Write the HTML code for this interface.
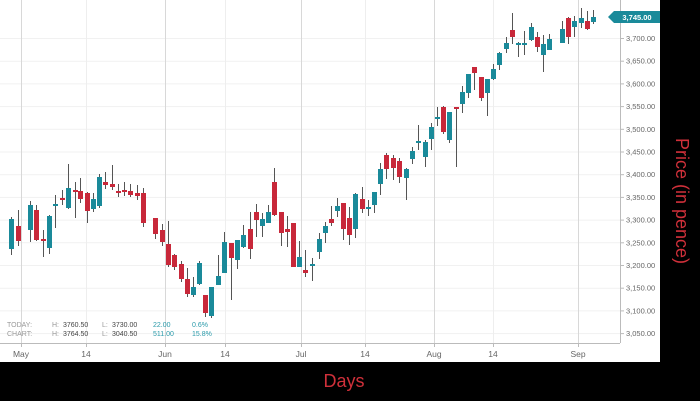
<!DOCTYPE html>
<html><head><meta charset="utf-8"><style>
html,body{margin:0;padding:0;background:#000;}
svg{display:block;font-family:"Liberation Sans",sans-serif;}
</style></head><body>
<svg width="700" height="401" viewBox="0 0 700 401" xmlns="http://www.w3.org/2000/svg">
<rect x="0" y="0" width="700" height="401" fill="#000"/>
<rect x="0" y="0" width="660" height="362" fill="#fff"/>
<g id="grid" stroke="#f1f1f1" stroke-width="1"></g>
<g stroke="#d8d8d8" stroke-width="1">
<line x1="21.5" y1="0" x2="21.5" y2="343"/><line x1="165.5" y1="0" x2="165.5" y2="343"/>
<line x1="301.5" y1="0" x2="301.5" y2="343"/><line x1="434.5" y1="0" x2="434.5" y2="343"/>
<line x1="578.5" y1="0" x2="578.5" y2="343"/>
</g>
<g stroke="#eeeeee" stroke-width="1">
<line x1="86.5" y1="0" x2="86.5" y2="343"/><line x1="225.5" y1="0" x2="225.5" y2="343"/>
<line x1="365.5" y1="0" x2="365.5" y2="343"/><line x1="493.5" y1="0" x2="493.5" y2="343"/>
</g>
<line x1="0" y1="343.5" x2="620" y2="343.5" stroke="#bbb"/>
<line x1="620.5" y1="0" x2="620.5" y2="343" stroke="#bbb"/>
<g stroke="#bbb">
<line x1="21.5" y1="343" x2="21.5" y2="347"/><line x1="86.5" y1="343" x2="86.5" y2="347"/>
<line x1="165.5" y1="343" x2="165.5" y2="347"/><line x1="225.5" y1="343" x2="225.5" y2="347"/>
<line x1="301.5" y1="343" x2="301.5" y2="347"/><line x1="365.5" y1="343" x2="365.5" y2="347"/>
<line x1="434.5" y1="343" x2="434.5" y2="347"/><line x1="493.5" y1="343" x2="493.5" y2="347"/>
<line x1="578.5" y1="343" x2="578.5" y2="347"/>
</g>
<g font-size="8.5" fill="#666" text-anchor="middle">
<text x="21" y="357">May</text><text x="86" y="357">14</text><text x="165" y="357">Jun</text>
<text x="225" y="357">14</text><text x="301" y="357">Jul</text><text x="365" y="357">14</text>
<text x="434" y="357">Aug</text><text x="493" y="357">14</text><text x="578" y="357">Sep</text>
</g>
<g id="ylab" font-size="7.5" fill="#666"></g>
<g id="candles"></g>
<polygon points="608,17 614,11 660,11 660,23 614,23" fill="#1a8a9a"/>
<text x="637" y="20" font-size="7.5" font-weight="bold" fill="#fff" text-anchor="middle">3,745.00</text>
<g font-size="7" fill="#999">
<text x="7" y="327">TODAY:</text><text x="7" y="336">CHART:</text>
<text x="52" y="327">H:</text><text x="52" y="336">H:</text>
<text x="102" y="327">L:</text><text x="102" y="336">L:</text>
</g>
<g font-size="7" fill="#444">
<text x="63" y="327">3760.50</text><text x="63" y="336">3764.50</text>
<text x="112" y="327">3730.00</text><text x="112" y="336">3040.50</text>
</g>
<g font-size="7" fill="#2a9aaa">
<text x="153" y="327">22.00</text><text x="153" y="336">511.00</text>
<text x="192" y="327">0.6%</text><text x="192" y="336">15.8%</text>
</g>
<text x="344" y="387" font-size="18" fill="#d0303a" text-anchor="middle">Days</text>
<text transform="translate(676,201) rotate(90)" font-size="18" fill="#d0303a" text-anchor="middle">Price (in pence)</text>
<script>
(function(){
var ns="http://www.w3.org/2000/svg";
function el(t,a,p){var e=document.createElementNS(ns,t);for(var k in a)e.setAttribute(k,a[k]);p.appendChild(e);return e;}
var g=document.getElementById("grid"),yl=document.getElementById("ylab");
for(var p=3700;p>=3050;p-=50){var y=38+(3700-p)*0.454;
el("line",{x1:0,y1:y+0.5,x2:620,y2:y+0.5},g);
el("line",{x1:620,y1:y+0.5,x2:624,y2:y+0.5,stroke:"#bbb"},g);
var t=el("text",{x:626,y:y+3},yl);t.textContent=(p/1000|0)+","+String(p%1000).padStart(3,"0")+".00";}
var c=[[11,217,255,219,249,0],[18,210,246,226,241,1],[30,201,242,205,230,0],[36,205,241,210,240,1],[43,230,257,239,241,1],[49,215,254,216,248,0],[55,195,228,204,205,0],[62,190,205,198,200,1],[68,164,209,188,208,0],[75,182,218,190,192,1],[80,178,203,191,199,1],[87,192,223,193,211,1],[93,193,212,199,209,0],[99,174,208,177,206,0],[105,172,189,182,185,1],[112,165,190,184,187,1],[118,184,197,191,193,1],[124,182,196,190,192,1],[130,184,197,191,195,1],[137,185,200,193,196,1],[143,188,227,193,223,1],[155,218,239,218,234,1],[162,224,246,230,242,1],[168,221,267,244,265,1],[174,254,270,255,267,1],[181,261,282,264,279,1],[187,268,297,279,294,1],[193,277,297,287,295,0],[199,261,285,263,284,0],[205,295,317,295,313,1],[211,287,318,287,316,0],[218,255,285,276,285,0],[224,232,273,242,273,0],[231,243,300,243,258,1],[237,240,269,240,260,0],[243,225,248,235,247,0],[250,212,259,229,249,1],[256,204,237,212,220,1],[262,213,237,219,226,0],[268,205,223,212,223,0],[274,168,216,182,215,1],[281,212,246,212,233,1],[287,216,247,229,232,1],[293,223,267,223,267,1],[299,241,267,257,267,0],[305,250,277,270,273,1],[312,258,281,264,265,0],[319,233,259,239,252,0],[325,222,243,226,233,0],[331,206,226,219,223,1],[337,198,217,206,211,0],[343,203,240,203,229,1],[349,207,245,218,235,1],[355,193,238,194,229,0],[362,187,213,199,209,1],[368,200,216,207,209,0],[374,192,213,192,205,0],[380,163,195,169,184,0],[386,153,179,155,169,1],[393,155,180,158,168,1],[399,158,183,161,177,1],[406,168,200,169,178,0],[412,147,164,151,159,0],[418,125,150,141,143,0],[425,140,167,142,157,0],[431,123,150,127,139,0],[437,107,126,117,119,0],[443,106,134,107,132,1],[449,112,143,112,140,0],[456,107,167,107,109,1],[462,86,113,92,104,0],[468,74,98,74,93,0],[474,67,90,67,73,1],[481,77,101,77,98,1],[487,79,116,79,93,0],[493,64,80,69,79,0],[499,52,70,53,65,0],[506,37,53,43,49,0],[512,13,44,30,37,1],[518,42,57,43,45,0],[524,31,55,43,45,0],[531,23,41,27,40,0],[537,32,52,37,47,1],[543,35,72,44,55,0],[549,34,50,39,50,0],[562,21,43,29,43,0],[568,17,44,18,37,1],[574,16,37,21,27,0],[581,8,28,18,23,0],[587,11,30,21,29,1],[593,10,24,17,22,0]];
var cg=document.getElementById("candles");
c.forEach(function(d){
el("line",{x1:d[0]+0.5,y1:d[1],x2:d[0]+0.5,y2:d[2],stroke:"#555","stroke-width":1},cg);
var h=Math.max(2,d[4]-d[3]);
el("rect",{x:d[0]-2,y:d[3],width:5,height:h,fill:d[5]?"#c8283a":"#1a8a9a"},cg);
});
})();
</script>
</svg>
</body></html>
